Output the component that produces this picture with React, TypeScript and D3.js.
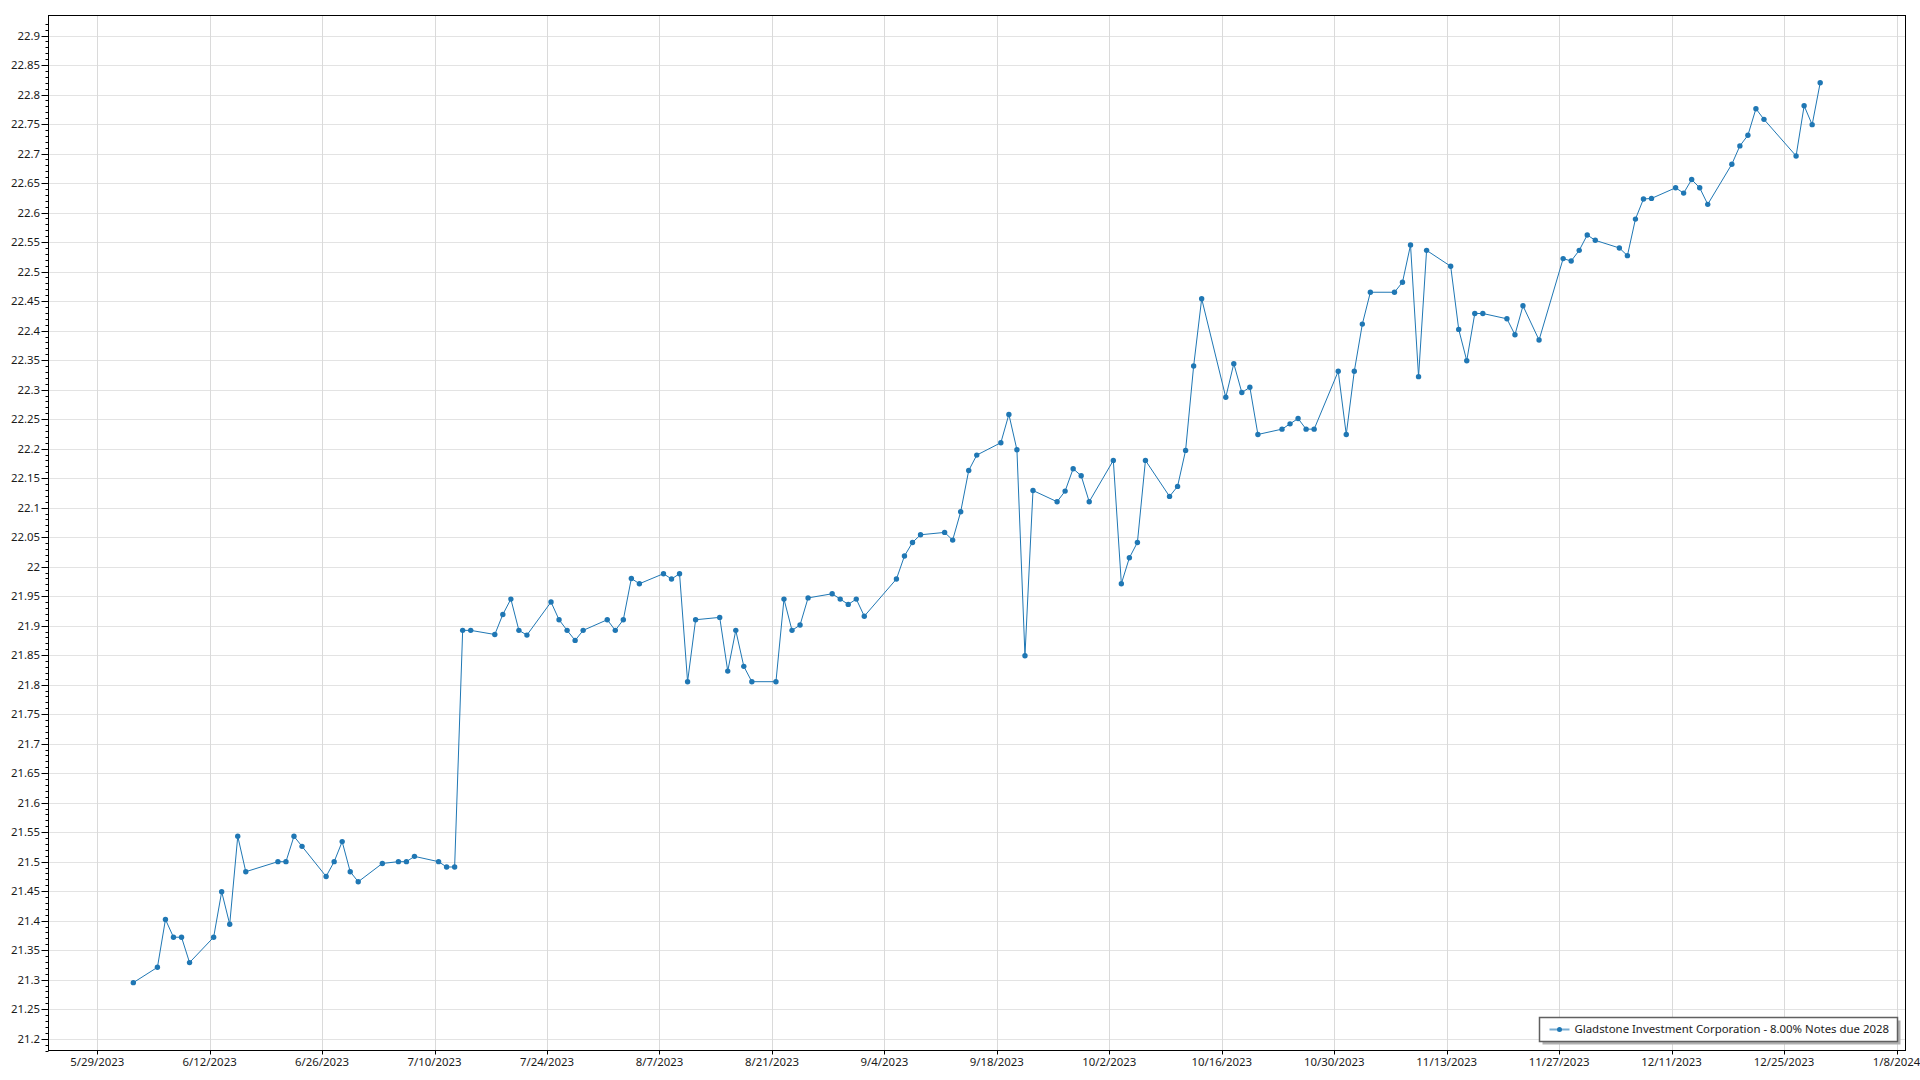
import React from 'react';
import * as d3 from 'd3';

// Daily closing values, 6/2/2023 – 12/29/2023.
const dates = [
  '2023-06-02', '2023-06-05', '2023-06-06', '2023-06-07', '2023-06-08', '2023-06-09',
  '2023-06-12', '2023-06-13', '2023-06-14', '2023-06-15', '2023-06-16',
  '2023-06-20', '2023-06-21', '2023-06-22', '2023-06-23',
  '2023-06-26', '2023-06-27', '2023-06-28', '2023-06-29', '2023-06-30',
  '2023-07-03', '2023-07-05', '2023-07-06', '2023-07-07',
  '2023-07-10', '2023-07-11', '2023-07-12', '2023-07-13', '2023-07-14',
  '2023-07-17', '2023-07-18', '2023-07-19', '2023-07-20', '2023-07-21',
  '2023-07-24', '2023-07-25', '2023-07-26', '2023-07-27', '2023-07-28',
  '2023-07-31', '2023-08-01', '2023-08-02', '2023-08-03', '2023-08-04',
  '2023-08-07', '2023-08-08', '2023-08-09', '2023-08-10', '2023-08-11',
  '2023-08-14', '2023-08-15', '2023-08-16', '2023-08-17', '2023-08-18',
  '2023-08-21', '2023-08-22', '2023-08-23', '2023-08-24', '2023-08-25',
  '2023-08-28', '2023-08-29', '2023-08-30', '2023-08-31', '2023-09-01',
  '2023-09-05', '2023-09-06', '2023-09-07', '2023-09-08',
  '2023-09-11', '2023-09-12', '2023-09-13', '2023-09-14', '2023-09-15',
  '2023-09-18', '2023-09-19', '2023-09-20', '2023-09-21', '2023-09-22',
  '2023-09-25', '2023-09-26', '2023-09-27', '2023-09-28', '2023-09-29',
  '2023-10-02', '2023-10-03', '2023-10-04', '2023-10-05', '2023-10-06',
  '2023-10-09', '2023-10-10', '2023-10-11', '2023-10-12', '2023-10-13',
  '2023-10-16', '2023-10-17', '2023-10-18', '2023-10-19', '2023-10-20',
  '2023-10-23', '2023-10-24', '2023-10-25', '2023-10-26', '2023-10-27',
  '2023-10-30', '2023-10-31', '2023-11-01', '2023-11-02', '2023-11-03',
  '2023-11-06', '2023-11-07', '2023-11-08', '2023-11-09', '2023-11-10',
  '2023-11-13', '2023-11-14', '2023-11-15', '2023-11-16', '2023-11-17',
  '2023-11-20', '2023-11-21', '2023-11-22', '2023-11-24',
  '2023-11-27', '2023-11-28', '2023-11-29', '2023-11-30', '2023-12-01',
  '2023-12-04', '2023-12-05', '2023-12-06', '2023-12-07', '2023-12-08',
  '2023-12-11', '2023-12-12', '2023-12-13', '2023-12-14', '2023-12-15',
  '2023-12-18', '2023-12-19', '2023-12-20', '2023-12-21', '2023-12-22',
  '2023-12-26', '2023-12-27', '2023-12-28', '2023-12-29',
];

const prices = [
  21.295, 21.321, 21.402, 21.372, 21.372, 21.329,
  21.372, 21.449, 21.394, 21.543, 21.483,
  21.5, 21.5, 21.543, 21.526,
  21.475, 21.5, 21.534, 21.483, 21.466,
  21.497, 21.5, 21.5, 21.509,
  21.5, 21.491, 21.491, 21.892, 21.892,
  21.885, 21.919, 21.945, 21.892, 21.884,
  21.94, 21.91, 21.892, 21.875, 21.892,
  21.91, 21.892, 21.91, 21.98, 21.971,
  21.988, 21.979, 21.988, 21.805, 21.91,
  21.914, 21.823, 21.892, 21.831, 21.805,
  21.805, 21.945, 21.892, 21.901, 21.947,
  21.954, 21.945, 21.936, 21.945, 21.916,
  21.979, 22.018, 22.041, 22.054,
  22.058, 22.045, 22.093, 22.163, 22.189,
  22.21, 22.258, 22.198, 21.849, 22.129,
  22.11, 22.128, 22.166, 22.154, 22.11,
  22.18, 21.971, 22.015, 22.041, 22.18,
  22.119, 22.136, 22.197, 22.34, 22.454,
  22.287, 22.344, 22.295, 22.304, 22.224,
  22.233, 22.242, 22.251, 22.233, 22.233,
  22.331, 22.224, 22.331, 22.411, 22.465,
  22.465, 22.482, 22.545, 22.322, 22.536,
  22.509, 22.402, 22.349, 22.429, 22.429,
  22.42, 22.393, 22.442, 22.384,
  22.522, 22.518, 22.536, 22.562, 22.553,
  22.54, 22.527, 22.589, 22.623, 22.624,
  22.642, 22.633, 22.656, 22.642, 22.614,
  22.682, 22.713, 22.731, 22.776, 22.758,
  22.696, 22.781, 22.749, 22.82,
];

const xTickLabels = [
  '5/29/2023', '6/12/2023', '6/26/2023', '7/10/2023', '7/24/2023', '8/7/2023',
  '8/21/2023', '9/4/2023', '9/18/2023', '10/2/2023', '10/16/2023', '10/30/2023',
  '11/13/2023', '11/27/2023', '12/11/2023', '12/25/2023', '1/8/2024',
];

const seriesName = 'Gladstone Investment Corporation - 8.00% Notes due 2028';
const seriesColor = '#1f77b4';

const W = 1920;
const H = 1080;
const plot = { left: 48.5, right: 1905.5, top: 15.5, bottom: 1050.5 };
const FONT = '"Noto Sans", "Open Sans", sans-serif';
const FS = 11.4;

const DAY = 86400000;
const parseMDY = d3.utcParse('%m/%d/%Y');
const parseISO = d3.utcParse('%Y-%m-%d');

export default function App() {
  const first = parseMDY(xTickLabels[0])!.getTime();
  // axis spans a few days either side of the tick run
  const x = d3.scaleUtc()
    .domain([new Date(first - 6.06 * DAY), new Date(first + 225.12 * DAY)])
    .range([plot.left, plot.right]);
  const y = d3.scaleLinear().domain([21.18, 22.934]).range([plot.bottom, plot.top]);

  // samples sit at mid-day, half a day right of the date gridline
  const pts = dates.map((d, i) => ({ t: new Date(parseISO(d)!.getTime() + DAY / 2), v: prices[i] }));

  const line = d3.line<{ t: Date; v: number }>().x((d) => x(d.t)).y((d) => y(d.v));

  const major = d3.range(0, 35).map((i) => +(21.2 + i * 0.05).toFixed(2));
  const minor = d3.range(0, 175).map((i) => +(21.18 + i * 0.01).toFixed(2))
    .filter((v) => v <= 22.934 && !major.some((m) => Math.abs(m - v) < 1e-6));
  const fmt = d3.format('~g');

  const xTicks = xTickLabels.map((s) => ({ s, t: parseMDY(s)! }));

  const lg = { x: 1539.5, y: 1017.5, w: 358, h: 24 };

  return (
    <svg width={W} height={H} style={{ position: 'absolute', left: 0, top: 0, background: '#fff' }}>
      {/* grid */}
      {major.map((v) => (
        <line key={'hg' + v} x1={plot.left} x2={plot.right} y1={Math.round(y(v)) + 0.5} y2={Math.round(y(v)) + 0.5}
          stroke="#e3e3e3" strokeWidth={1} />
      ))}
      {xTicks.map((d) => (
        <line key={'vg' + d.s} x1={Math.round(x(d.t)) + 0.5} x2={Math.round(x(d.t)) + 0.5} y1={plot.top} y2={plot.bottom}
          stroke="#dadada" strokeWidth={1} />
      ))}

      {/* series */}
      <path d={line(pts) ?? ''} fill="none" stroke={seriesColor} strokeWidth={1} />
      {pts.map((d, i) => (
        <circle key={i} cx={x(d.t)} cy={y(d.v)} r={2.7} fill={seriesColor} />
      ))}

      {/* frame */}
      <rect x={plot.left} y={plot.top} width={plot.right - plot.left} height={plot.bottom - plot.top}
        fill="none" stroke="#000" strokeWidth={1} />

      {/* y axis */}
      {major.map((v) => (
        <g key={'yt' + v}>
          <line x1={plot.left - 7} x2={plot.left} y1={Math.round(y(v)) + 0.5} y2={Math.round(y(v)) + 0.5} stroke="#000" />
          <text x={40} y={y(v)} dy="0.35em" textAnchor="end" fontFamily={FONT} fontSize={FS} fill="#1a1a1a">
            {fmt(v)}
          </text>
        </g>
      ))}
      {minor.map((v) => (
        <line key={'ym' + v} x1={plot.left - 3} x2={plot.left} y1={Math.round(y(v)) + 0.5} y2={Math.round(y(v)) + 0.5} stroke="#000" />
      ))}

      {/* x axis */}
      {xTicks.map((d) => (
        <g key={'xt' + d.s}>
          <line x1={Math.round(x(d.t)) + 0.5} x2={Math.round(x(d.t)) + 0.5} y1={plot.bottom} y2={plot.bottom + 4} stroke="#000" />
          <text x={x(d.t)} y={1066} textAnchor="middle" fontFamily={FONT} fontSize={FS} fill="#1a1a1a">
            {d.s}
          </text>
        </g>
      ))}

      {/* legend */}
      <rect x={lg.x + 3} y={lg.y + 3} width={lg.w} height={lg.h} fill="#b0b0b0" />
      <rect x={lg.x} y={lg.y} width={lg.w} height={lg.h} fill="#fff" stroke="#606060" strokeWidth={1.5} />
      <line x1={lg.x + 10} x2={lg.x + 30} y1={lg.y + 12} y2={lg.y + 12} stroke={seriesColor} strokeOpacity={0.6} strokeWidth={2} />
      <circle cx={lg.x + 20} cy={lg.y + 12} r={2.5} fill={seriesColor} />
      <text x={lg.x + 35} y={lg.y + 12} dy="0.35em" fontFamily={FONT} fontSize={FS} fill="#1a1a1a">
        {seriesName}
      </text>
    </svg>
  );
}
